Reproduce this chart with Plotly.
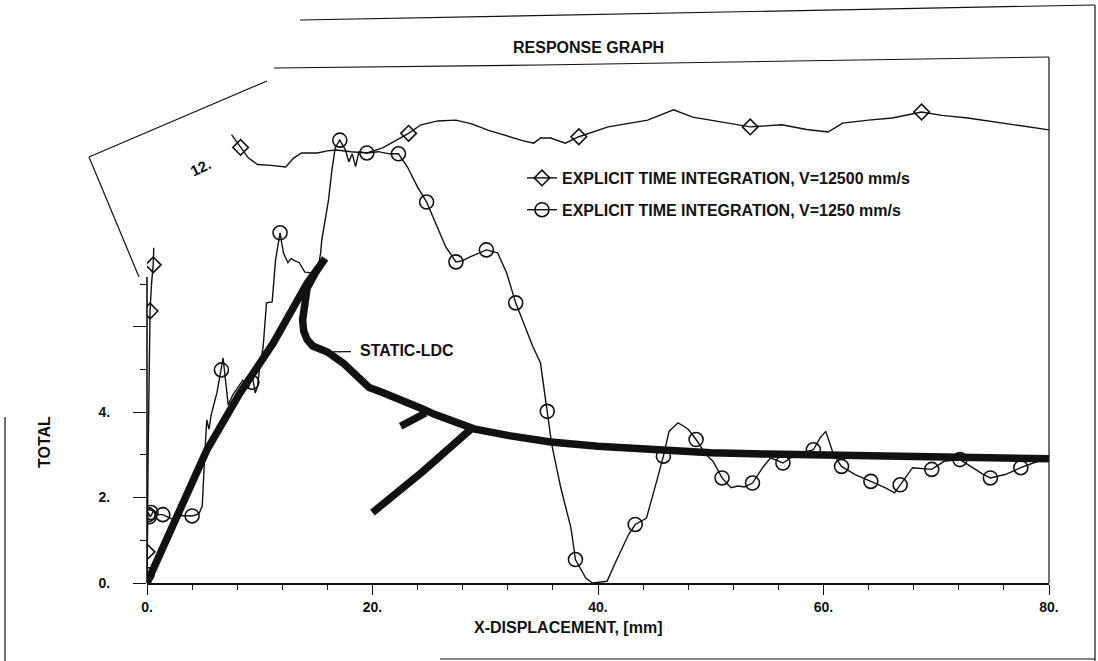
import plotly.graph_objects as go

# ---------------- data ----------------
static_x = [0.0, 2.6, 5.3, 8.25, 11.2, 14.2, 15.8, 14.9, 14.2, 13.9, 13.8, 13.9, 14.2, 14.7, 15.4,
            16.0, 17.4, 18.6, 19.7, 21.0, 22.8, 24.4, 25.5, 26.9, 29.0, 32.1, 35.8, 40.0, 45.9,
            50.0, 55.0, 60.0, 65.0, 70.0, 75.0, 80.0,
            None, 24.7, 23.6, 22.5,
            None, 28.8, 24.5, 20.0]
static_y = [0.0, 1.55, 3.11, 4.45, 5.62, 7.02, 7.6, 7.25, 6.9, 6.5, 6.16, 5.9, 5.7, 5.55, 5.45,
            5.41, 5.15, 4.82, 4.58, 4.45, 4.27, 4.08, 3.95, 3.8, 3.61, 3.45, 3.3, 3.2, 3.1,
            3.05, 3.02, 2.99, 2.96, 2.94, 2.92, 2.91,
            None, 3.98, 3.8, 3.67,
            None, 3.62, 2.62, 1.65]

v12500_x = [0.0, 0.0, 0.05, 0.1, 0.15, 0.2, 0.27, 0.4, 0.55, 0.6, None,
            7.5, 8.3, 9.0, 9.8, 11.0, 12.3, 13.0, 13.7, 15.1, 16.0, 16.8, 18.1, 19.5, 20.9,
            22.0, 23.2, 24.3, 25.8, 27.4, 28.8, 30.3, 32.4, 33.3, 34.3, 34.9, 35.8, 37.1,
            38.3, 40.9, 44.4, 46.7, 48.4, 50.9, 53.5, 56.3, 58.5, 60.4, 61.7, 64.0, 66.1,
            68.7, 70.5, 72.8, 76.0, 80.0]
v12500_y = [0.0, 0.73, 1.5, 3.0, 4.5, 5.5, 6.37, 7.0, 7.45, 7.85, None,
            10.5, 10.2, 9.95, 9.8, 9.78, 9.74, 9.95, 10.07, 10.07, 10.12, 10.14, 10.1, 10.07, 10.19,
            10.35, 10.53, 10.73, 10.82, 10.84, 10.75, 10.6, 10.42, 10.36, 10.3, 10.42, 10.42, 10.3,
            10.45, 10.68, 10.84, 11.08, 10.91, 10.8, 10.68, 10.73, 10.62, 10.56, 10.77, 10.84, 10.89,
            11.03, 10.95, 10.89, 10.77, 10.61]
v12500_mx = [0.0, 0.27, 0.55, 8.3, 23.2, 38.3, 53.5, 68.7]
v12500_my = [0.73, 6.37, 7.45, 10.2, 10.53, 10.45, 10.68, 11.03]

v1250_x = [0.0, 0.0, 0.05, 0.1, 0.3, 0.6, 1.0, 1.4, 2.0, 2.6, 3.0, 4.0, 4.6, 4.9, 5.1, 5.3, 5.5,
           5.7, 6.2, 6.6, 6.75, 6.9, 7.2, 7.6, 8.5, 9.0, 9.3, 9.6, 9.8, 10.0, 10.3, 10.6, 11.1,
           11.4, 11.8, 12.1, 12.5, 12.8, 13.0, 13.5, 14.0, 14.7, 15.2, 15.4, 15.5, 15.8, 16.1,
           16.4, 16.7, 17.1, 17.6, 17.9, 18.2, 18.5, 18.8, 19.5, 20.5, 21.5, 22.3, 23.1, 24.0,
           24.8, 25.6, 26.5, 27.4, 28.0, 28.7, 30.1, 31.1, 31.9, 32.7, 33.4, 34.2, 34.9, 35.5,
           35.9, 36.7, 37.6, 38.0, 38.9, 39.5, 40.8, 41.6, 42.7, 43.3, 44.3, 45.2, 45.8, 46.3,
           47.1, 47.6, 48.0, 48.7, 49.6, 50.2, 51.0, 51.8, 52.4, 53.0, 53.7, 54.6, 55.3, 56.4,
           57.5, 59.1, 59.7, 60.2, 60.9, 61.6, 62.8, 64.2, 65.5, 66.3, 66.8, 67.9, 69.6, 70.7,
           72.1, 73.2, 74.2, 74.8, 76.1, 77.5, 78.6, 80.0]
v1250_y = [0.2, 0.8, 1.5, 1.65, 1.55, 1.7, 1.6, 1.6, 1.52, 1.45, 1.58, 1.57, 1.62, 1.8, 2.88, 3.82, 3.6,
           3.95, 4.45, 4.99, 5.27, 4.9, 4.17, 4.4, 4.75, 4.55, 4.9, 4.45, 4.6, 5.06, 5.53, 6.56, 6.58,
           7.56, 8.2, 7.73, 7.5, 7.6, 7.56, 7.5, 7.28, 7.26, 7.4, 7.73, 8.03, 8.5, 8.97,
           9.67, 10.2, 10.37, 10.14, 9.86, 10.05, 9.75, 10.1, 10.07, 10.1, 10.05, 10.05, 9.74, 9.27,
           8.92, 8.43, 7.87, 7.52, 7.55, 7.64, 7.8, 7.73, 7.26, 6.56, 6.1, 5.55, 5.15, 4.02,
           3.24, 2.23, 1.29, 0.55, 0.12, 0.0, 0.04, 0.51, 1.13, 1.37, 1.52, 2.38, 2.97, 3.55,
           3.75, 3.67, 3.6, 3.36, 3.0, 2.85, 2.46, 2.23, 2.27, 2.25, 2.34, 2.7, 2.93, 2.81,
           3.0, 3.12, 3.4, 3.55, 3.0, 2.73, 2.54, 2.38, 2.23, 2.11, 2.3, 2.7, 2.66, 2.85,
           2.89, 2.7, 2.54, 2.46, 2.54, 2.7, 2.81, 2.93]
v1250_mx = [0.0, 0.1, 0.2, 0.35, 1.4, 4.0, 6.6, 9.3, 11.8, 17.1, 19.5, 22.3, 24.8, 27.4, 30.1,
            32.7, 35.5, 38.0, 43.3, 45.8, 48.7, 51.0, 53.7, 56.4, 59.1, 61.6, 64.2, 66.8, 69.6,
            72.1, 74.8, 77.5]
v1250_my = [0.2, 1.6, 1.55, 1.65, 1.6, 1.57, 4.99, 4.7, 8.2, 10.37, 10.07, 10.05, 8.92, 7.52, 7.8,
            6.56, 4.02, 0.55, 1.37, 2.97, 3.36, 2.46, 2.34, 2.81, 3.12, 2.73, 2.38, 2.3, 2.66,
            2.89, 2.46, 2.7]

x_tickvals = [0, 20, 40, 60, 80]
x_ticktext = ["0.", "20.", "40.", "60.", "80."]
y_tickvals = [0, 2, 4, 6]
y_ticktext = ["0.", "2.", "4.", ""]

name_fast = "EXPLICIT TIME INTEGRATION, V=12500 mm/s"
name_slow = "EXPLICIT TIME INTEGRATION, V=1250 mm/s"

# ---------------- layout geometry ----------------
W, H = 1098, 661
PL, PR, PT, PB = 147, 1049, 62, 583


def px(xp, yp):
    return (xp - PL) / (PR - PL), (PB - yp) / (PB - PT)


INK = "#111111"
FONT = "Liberation Sans, Arial, Helvetica, sans-serif"

fig = go.Figure()

fig.add_trace(go.Scatter(x=static_x, y=static_y, mode="lines", connectgaps=False,
                         line=dict(color=INK, width=7.5), showlegend=False, hoverinfo="skip"))
fig.add_trace(go.Scatter(x=v12500_x, y=v12500_y, mode="lines", connectgaps=False,
                         line=dict(color=INK, width=1.4), showlegend=False))
fig.add_trace(go.Scatter(x=v12500_mx, y=v12500_my, mode="markers", showlegend=False,
                         marker=dict(symbol="diamond-open", size=12, color=INK,
                                     line=dict(width=1.6, color=INK))))
fig.add_trace(go.Scatter(x=v1250_x, y=v1250_y, mode="lines",
                         line=dict(color=INK, width=1.4), showlegend=False))
fig.add_trace(go.Scatter(x=v1250_mx, y=v1250_my, mode="markers", showlegend=False,
                         marker=dict(symbol="circle-open", size=14, color=INK,
                                     line=dict(width=1.6, color=INK))))
# legend entries
fig.add_trace(go.Scatter(x=[None], y=[None], mode="lines+markers", name=name_fast,
                         legendgroup="a",
                         line=dict(color=INK, width=1.4),
                         marker=dict(symbol="diamond-open", size=12, color=INK,
                                     line=dict(width=1.6, color=INK))))
fig.add_trace(go.Scatter(x=[None], y=[None], mode="lines+markers", name=name_slow,
                         legendgroup="b",
                         line=dict(color=INK, width=1.4),
                         marker=dict(symbol="circle-open", size=14, color=INK,
                                     line=dict(width=1.6, color=INK))))

# ---------------- frame pieces (scan layout) ----------------
shapes = []


def seg(p1, p2, width=1.2, dash="solid"):
    x0, y0 = px(*p1)
    x1, y1 = px(*p2)
    shapes.append(dict(type="line", xref="paper", yref="paper", x0=x0, y0=y0, x1=x1, y1=y1,
                       line=dict(color=INK, width=width, dash=dash)))


seg((274, 68), (540, 65))
seg((540, 65), (1049, 57))
seg((1049, 57), (1049, 583))
seg((147, 583), (147, 277), width=1.6)
seg((89, 157), (267, 81))
seg((89, 157), (139, 277))
seg((300, 20), (1095, 5))
seg((1095, 5), (1095, 661))
seg((440, 659), (1095, 659))
seg((5, 417), (5, 661))

annotations = []


def label(text, xp, yp, size=16, angle=0, xanchor="center"):
    x, y = px(xp, yp)
    annotations.append(dict(text=text, x=x, y=y, xref="paper", yref="paper", showarrow=False,
                            textangle=angle, xanchor=xanchor, yanchor="middle",
                            font=dict(family=FONT, size=size, color=INK, weight="bold")))


label("RESPONSE GRAPH", 588, 47)
label("X-DISPLACEMENT, [mm]", 568, 627)
label("TOTAL", 44, 442, angle=-90)
label("12.", 200, 167, size=15, angle=-25)

annotations.append(dict(text="STATIC-LDC", x=16.0, y=5.41, xref="x", yref="y",
                        showarrow=True, arrowhead=0, arrowwidth=1.2, arrowcolor=INK,
                        ax=80, ay=-1, startstandoff=8,
                        font=dict(family=FONT, size=16, color=INK, weight="bold")))

fig.update_layout(
    width=W, height=H,
    margin=dict(l=PL, r=W - PR, t=PT, b=H - PB),
    paper_bgcolor="white", plot_bgcolor="white",
    font=dict(family=FONT, size=14, color=INK),
    shapes=shapes, annotations=annotations,
    legend=dict(x=px(522, 0)[0], y=px(0, 161)[1], xanchor="left", yanchor="top",
                bgcolor="rgba(0,0,0,0)", tracegroupgap=8, traceorder="grouped",
                font=dict(family=FONT, size=16, color=INK, weight="bold")),
    xaxis=dict(range=[0, 80], showgrid=False, zeroline=False, showline=True,
               linecolor=INK, linewidth=1.6,
               tickmode="array", tickvals=x_tickvals, ticktext=x_ticktext,
               ticks="outside", ticklen=10, tickwidth=1.4, tickcolor=INK,
               tickfont=dict(family=FONT, size=14, color=INK, weight="bold"),
               minor=dict(dtick=4, ticks="outside", ticklen=5, tickwidth=1.2, tickcolor=INK,
                          showgrid=False)),
    yaxis=dict(range=[0, 12.2], showgrid=False, zeroline=False, showline=False,
               tickmode="array", tickvals=y_tickvals, ticktext=y_ticktext,
               ticks="outside", ticklen=13, tickwidth=1.4, tickcolor=INK,
               ticklabelstandoff=20,
               tickfont=dict(family=FONT, size=14, color=INK, weight="bold"),
               minor=dict(tickvals=[1, 3, 5, 7], ticks="outside", ticklen=6, tickwidth=1.2,
                          tickcolor=INK, showgrid=False)),
)

fig.write_html("out.html")
